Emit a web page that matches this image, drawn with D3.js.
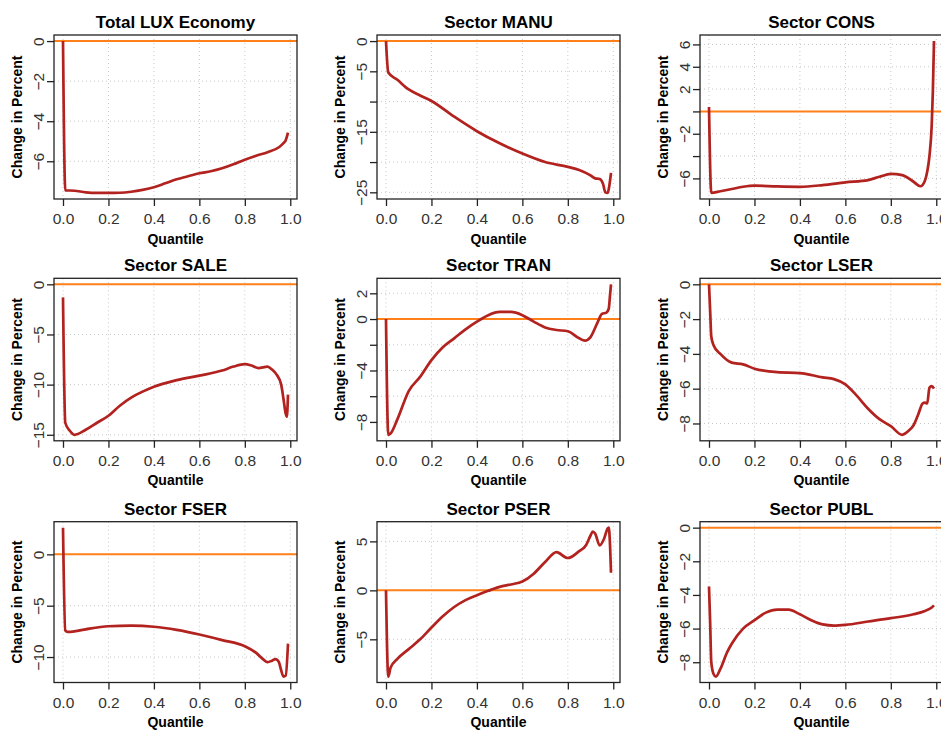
<!DOCTYPE html>
<html>
<head>
<meta charset="utf-8">
<script src="https://cdnjs.cloudflare.com/ajax/libs/d3/7.8.5/d3.min.js"></script>
<style>
  html, body { margin: 0; padding: 0; background: #fff; }
  svg { display: block; }
</style>
</head>
<body>
<div id="chart"></div>
<script>
// quantile grids and values (change in percent)
var qTotal   = [0,0.01,0.05,0.1,0.15,0.2,0.25,0.3,0.35,0.4,0.45,0.5,0.55,0.6,0.65,0.7,0.75,0.8,0.85,0.9,0.95,0.97,0.98,0.99];
var valTotal = [0,-7.45,-7.47,-7.55,-7.58,-7.58,-7.57,-7.52,-7.43,-7.3,-7.1,-6.9,-6.75,-6.6,-6.5,-6.35,-6.15,-5.92,-5.72,-5.55,-5.3,-5.1,-4.95,-4.57];

var qManu   = [0,0.01,0.05,0.1,0.15,0.2,0.3,0.4,0.5,0.6,0.7,0.8,0.85,0.9,0.92,0.94,0.955,0.965,0.975,0.98,0.99];
var valManu = [0,-5.2,-6.4,-8.0,-9.0,-9.9,-12.5,-14.9,-16.9,-18.6,-20.0,-20.8,-21.3,-22.2,-22.7,-22.8,-23.6,-25.0,-25.1,-24.5,-21.8];

var qCons   = [0,0.01,0.05,0.1,0.15,0.2,0.3,0.4,0.5,0.6,0.7,0.75,0.8,0.85,0.9,0.93,0.95,0.96,0.97,0.98,0.985,0.99];
var valCons = [0.4,-7.3,-7.15,-6.95,-6.75,-6.65,-6.72,-6.75,-6.6,-6.35,-6.15,-5.85,-5.6,-5.7,-6.3,-6.7,-6.2,-5.4,-4.0,-1.2,1.8,6.3];

var qSale   = [0,0.01,0.03,0.05,0.1,0.15,0.2,0.25,0.3,0.35,0.4,0.5,0.6,0.7,0.75,0.8,0.83,0.86,0.9,0.92,0.94,0.96,0.97,0.98,0.985,0.99];
var valSale = [-1.3,-13.8,-14.6,-15.0,-14.5,-13.8,-13.1,-12.1,-11.3,-10.7,-10.2,-9.55,-9.1,-8.6,-8.2,-7.95,-8.1,-8.35,-8.2,-8.5,-9.0,-10.0,-11.4,-12.9,-13.2,-11.0];

var qTran   = [0,0.01,0.02,0.05,0.1,0.15,0.2,0.25,0.3,0.35,0.4,0.45,0.5,0.55,0.6,0.65,0.7,0.75,0.8,0.85,0.875,0.9,0.93,0.95,0.97,0.98,0.985,0.99];
var valTran = [0,-9.0,-8.9,-7.8,-5.6,-4.5,-3.2,-2.2,-1.5,-0.8,-0.2,0.3,0.55,0.55,0.3,-0.2,-0.65,-0.85,-0.95,-1.5,-1.68,-1.4,-0.3,0.4,0.5,0.8,1.7,2.7];

var qLser   = [0,0.005,0.01,0.02,0.05,0.1,0.15,0.2,0.3,0.4,0.5,0.55,0.6,0.65,0.7,0.75,0.8,0.85,0.88,0.9,0.92,0.94,0.95,0.96,0.97,0.98,0.99];
var valLser = [0,-1.5,-3.0,-3.5,-4.0,-4.5,-4.6,-4.85,-5.05,-5.1,-5.35,-5.45,-5.75,-6.4,-7.15,-7.75,-8.15,-8.65,-8.4,-8.1,-7.5,-6.85,-6.8,-6.85,-5.95,-5.85,-6.0];

var qFser   = [0,0.01,0.02,0.05,0.1,0.2,0.3,0.4,0.5,0.6,0.7,0.8,0.85,0.88,0.9,0.92,0.935,0.95,0.96,0.97,0.98,0.99];
var valFser = [2.6,-7.4,-7.55,-7.5,-7.3,-7.0,-6.95,-7.05,-7.35,-7.8,-8.35,-8.95,-9.6,-10.2,-10.5,-10.35,-10.2,-10.5,-11.3,-11.9,-11.8,-8.7];

var qPser   = [0,0.01,0.02,0.05,0.1,0.15,0.2,0.25,0.3,0.35,0.4,0.45,0.5,0.55,0.6,0.65,0.7,0.75,0.8,0.85,0.88,0.9,0.91,0.92,0.94,0.96,0.975,0.98,0.985,0.99];
var valPser = [0,-8.8,-7.9,-7.0,-6.0,-5.0,-3.8,-2.65,-1.7,-1.0,-0.5,-0.05,0.35,0.6,0.9,1.7,2.9,3.9,3.3,4.0,4.6,5.6,6.0,5.8,4.6,5.3,6.3,6.4,5.0,1.8];

var qPubl   = [0,0.005,0.01,0.02,0.03,0.05,0.08,0.1,0.15,0.2,0.25,0.3,0.35,0.4,0.45,0.5,0.55,0.6,0.7,0.8,0.9,0.95,0.98,0.99];
var valPubl = [-3.5,-5.6,-8.0,-8.7,-8.85,-8.4,-7.4,-6.9,-6.0,-5.5,-5.05,-4.87,-4.87,-5.15,-5.5,-5.75,-5.82,-5.78,-5.58,-5.38,-5.15,-4.95,-4.75,-4.62];

var titles = ["Total LUX Economy","Sector MANU","Sector CONS","Sector SALE","Sector TRAN",
              "Sector LSER","Sector FSER","Sector PSER","Sector PUBL"];

var xTicks = [0,0.2,0.4,0.6,0.8,1.0];

// y ticks per panel; "" where the label is dropped for lack of room
var yTicks = [
  [0,-2,-4,-6],
  [0,-5,-10,-15,-20,-25],
  [6,4,2,0,-2,-4,-6],
  [0,-5,-10,-15],
  [2,0,-2,-4,-6,-8],
  [0,-2,-4,-6,-8],
  [0,-5,-10],
  [5,0,-5],
  [0,-2,-4,-6,-8]
];
var yLabels = [
  ["0","\u22122","\u22124","\u22126"],
  ["0","\u22125","","\u221215","","\u221225"],
  ["6","4","2","","\u22122","","\u22126"],
  ["0","\u22125","\u221210","\u221215"],
  ["2","0","","\u22124","","\u22128"],
  ["0","\u22122","\u22124","\u22126","\u22128"],
  ["0","\u22125","\u221210"],
  ["5","0","\u22125"],
  ["0","\u22122","\u22124","\u22126","\u22128"]
];

var qs   = [qTotal,qManu,qCons,qSale,qTran,qLser,qFser,qPser,qPubl];
var vals = [valTotal,valManu,valCons,valSale,valTran,valLser,valFser,valPser,valPubl];

var width = 941, height = 731;
var colW = 323;
var left = 54, pw = 243;
var rowTop = [35, 278.3, 521.7];
var rowBottom = [199, 440.8, 682.5];

var lineColor = "#b2221f", zeroColor = "#ff8018";

var svg = d3.select("#chart").append("svg")
    .attr("width", width)
    .attr("height", height)
    .style("font-family", "'Liberation Sans', Arial, sans-serif");

// R style: range padded by 4% on each side
function pad(ext) {
  var d = (ext[1]-ext[0])*0.04;
  return [ext[0]-d, ext[1]+d];
}

titles.forEach(function(title, i) {
  var col = i % 3, row = Math.floor(i/3);
  var x0 = col*colW + left, y0 = rowTop[row], y1 = rowBottom[row];
  var ph = y1 - y0;

  var data = qs[i].map(function(q, j) { return {q:q, v:vals[i][j]}; });

  var x = d3.scaleLinear().domain(pad(d3.extent(qs[i]))).range([x0, x0+pw]);
  var ext = d3.extent(vals[i]);
  var y = d3.scaleLinear().domain(pad([Math.min(0, ext[0]), Math.max(0, ext[1])])).range([y1, y0]);

  var g = svg.append("g");

  // dotted grid
  g.selectAll(".vgrid").data(xTicks).enter().append("line")
      .attr("x1", function(d) { return x(d); }).attr("x2", function(d) { return x(d); })
      .attr("y1", y0).attr("y2", y1)
      .attr("stroke", "#c8c8c8").attr("stroke-width", 1).attr("stroke-dasharray", "1,3");
  g.selectAll(".hgrid").data(yTicks[i]).enter().append("line")
      .attr("x1", x0).attr("x2", x0+pw)
      .attr("y1", function(d) { return y(d); }).attr("y2", function(d) { return y(d); })
      .attr("stroke", "#c8c8c8").attr("stroke-width", 1).attr("stroke-dasharray", "1,3");

  // zero line
  g.append("line")
      .attr("x1", x0).attr("x2", x0+pw)
      .attr("y1", y(0)).attr("y2", y(0))
      .attr("stroke", zeroColor).attr("stroke-width", 2);

  var line = d3.line()
      .x(function(d) { return x(d.q); })
      .y(function(d) { return y(d.v); })
      .curve(d3.curveMonotoneX);

  g.append("path")
      .datum(data)
      .attr("d", line)
      .attr("fill", "none")
      .attr("stroke", lineColor)
      .attr("stroke-width", 2.7)
      .attr("stroke-linejoin", "round");

  // box
  g.append("rect")
      .attr("x", x0).attr("y", y0).attr("width", pw).attr("height", ph)
      .attr("fill", "none").attr("stroke", "#222").attr("stroke-width", 1.3);

  // x axis
  var xa = g.append("g")
      .attr("transform", "translate(0," + y1 + ")")
      .call(d3.axisBottom(x).tickValues(xTicks).tickFormat(d3.format(".1f")).tickSize(7).tickPadding(7));
  xa.select(".domain").remove();
  xa.selectAll("line").attr("stroke", "#222").attr("stroke-width", 1.3);
  xa.selectAll("text").attr("fill", "#333").style("font-size", "15.5px").attr("font-family", null);

  // y axis, labels parallel to the axis
  var ya = g.append("g")
      .attr("transform", "translate(" + x0 + ",0)")
      .call(d3.axisLeft(y).tickValues(yTicks[i]).tickSize(7)
            .tickFormat(function(d, k) { return yLabels[i][k]; }));
  ya.select(".domain").remove();
  ya.selectAll("line").attr("stroke", "#222").attr("stroke-width", 1.3);
  ya.selectAll("text")
      .attr("transform", "rotate(-90)")
      .attr("x", 0).attr("y", -10.5).attr("dy", 0)
      .attr("text-anchor", "middle")
      .attr("fill", "#333").style("font-size", "15.5px").attr("font-family", null);

  // titles and axis names
  g.append("text")
      .attr("x", x0 + pw/2).attr("y", y0 - 7)
      .attr("text-anchor", "middle")
      .style("font-size", "17px").style("font-weight", "bold")
      .text(title);

  g.append("text")
      .attr("x", x0 + pw/2).attr("y", y1 + 44.5)
      .attr("text-anchor", "middle")
      .style("font-size", "14px").style("font-weight", "bold")
      .text("Quantile");

  g.append("text")
      .attr("transform", "translate(" + (col*colW + 22) + "," + ((y0 + y1)/2) + ") rotate(-90)")
      .attr("text-anchor", "middle")
      .style("font-size", "14px").style("font-weight", "bold")
      .text("Change in Percent");
});
</script>
</body>
</html>
